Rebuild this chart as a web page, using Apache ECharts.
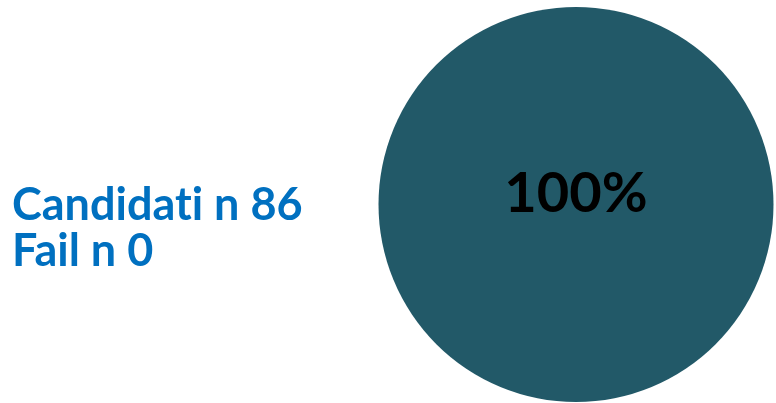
<!DOCTYPE html>
<html>
<head>
<meta charset="utf-8">
<script src="https://cdn.jsdelivr.net/npm/echarts@6/dist/echarts.min.js"></script>
<style>
html,body{margin:0;padding:0;background:#fff;}
#c{width:776px;height:403px;}
</style>
</head>
<body>
<div id="c"></div>
<script>
const categories = ['Pass', 'Fail'];
const values = [86, 0];
const candidati = 86;
const failCount = 0;

const chart = echarts.init(document.getElementById('c'), null, {renderer: 'canvas'});
chart.setOption({
  animation: false,
  backgroundColor: '#ffffff',
  graphic: [{
    type: 'text',
    left: 12,
    top: 183,
    style: {
      text: '{a|Candidat}{a|i n ' + candidati + '}\n{a|Fail n ' + failCount + '}',
      rich: {
        a: {
          fill: '#0070C0',
          fontFamily: 'Lato',
          fontWeight: 'bold',
          fontSize: 45,
          lineHeight: 46
        }
      }
    }
  }],
  series: [{
    type: 'pie',
    center: [576, 204.5],
    radius: [0, 197.5],
    startAngle: 90,
    silent: true,
    itemStyle: { color: '#225968', borderWidth: 0 },
    labelLine: { show: false },
    labelLayout: { dy: -11 },
    data: categories.map((n, i) => ({
      name: n,
      value: values[i],
      label: values[i] > 0 ? {
        show: true,
        position: 'center',
        formatter: '{d}%',
        color: '#000000',
        fontFamily: 'Lato',
        fontWeight: 'bold',
        fontSize: 56
      } : { show: false }
    }))
  }]
});
</script>
</body>
</html>
